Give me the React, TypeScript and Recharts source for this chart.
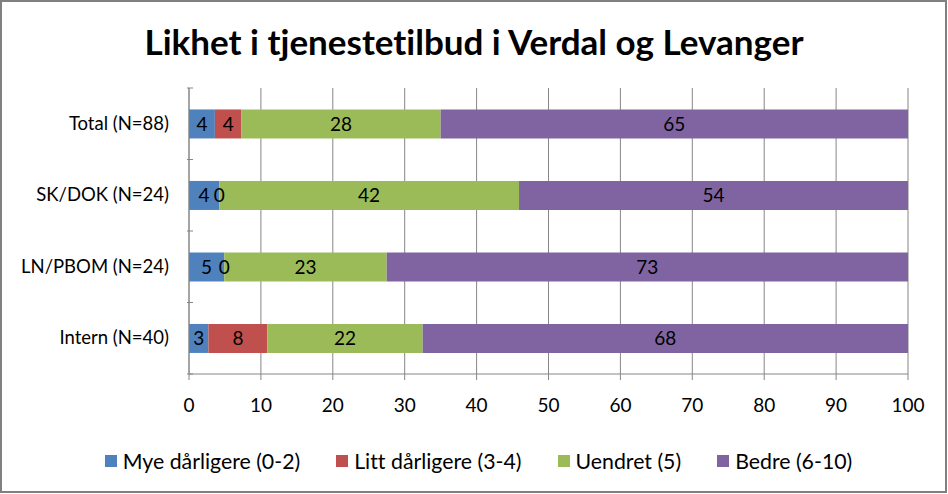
import React from 'react';
import { BarChart, Bar, XAxis, YAxis, CartesianGrid, LabelList, Legend } from 'recharts';

const categories = ['Total (N=88)', 'SK/DOK (N=24)', 'LN/PBOM (N=24)', 'Intern (N=40)'];
const myeDarligere = [3.6, 4.2, 4.9, 2.7];
const littDarligere = [3.7, 0, 0, 8.2];
const uendret = [27.7, 41.7, 22.6, 21.6];
const bedre = [65.0, 54.1, 72.5, 67.5];
const xTicks = [0, 10, 20, 30, 40, 50, 60, 70, 80, 90, 100];

const SERIES = [
    { key: 'mye', name: 'Mye dårligere (0-2)', color: '#4F81BD' },
    { key: 'litt', name: 'Litt dårligere (3-4)', color: '#C0504D' },
    { key: 'uendret', name: 'Uendret (5)', color: '#9BBB59' },
    { key: 'bedre', name: 'Bedre (6-10)', color: '#8064A2' },
];

const data = categories.map((name, i) => ({
    name,
    mye: myeDarligere[i],
    litt: littDarligere[i],
    uendret: uendret[i],
    bedre: bedre[i],
}));

const FONT = 'Lato, "Open Sans", sans-serif';
const AXIS = '#868686';
const NOLIG = { fontVariantLigatures: 'none' } as React.CSSProperties;

const W = 948;
const H = 494;
const PLOT_TOP = 88;
const PLOT_BOTTOM = 374;
const band = (PLOT_BOTTOM - PLOT_TOP) / categories.length;

const CategoryTick = (props: any) => {
    const { x, y, payload, index } = props;
    return (
        <g>
            <line x1={x + 6} x2={x + 12} y1={y - band / 2} y2={y - band / 2} stroke={AXIS} />
            {index === categories.length - 1 && (
                <line x1={x + 6} x2={x + 12} y1={y + band / 2} y2={y + band / 2} stroke={AXIS} />
            )}
            <text x={x - 12} y={y} dy={6} textAnchor="end" fontSize={18.5} fill="#000" fontFamily={FONT} style={NOLIG}>
                {payload.value}
            </text>
        </g>
    );
};

const LegendContent = () => (
    <div
        style={{
            display: 'flex',
            justifyContent: 'center',
            gap: 36,
            paddingLeft: 49,
            fontFamily: FONT,
            fontSize: 21.3,
            color: '#000',
            ...NOLIG,
        }}
    >
        {SERIES.map((s) => (
            <div key={s.key} style={{ display: 'flex', alignItems: 'center' }}>
                <span style={{ width: 12, height: 12, background: s.color, marginRight: 6, display: 'inline-block' }} />
                <span>{s.name}</span>
            </div>
        ))}
    </div>
);

const App = () => {
    return (
        <div style={{ position: 'absolute', left: 0, top: 0, width: W, height: H, background: '#fff' }}>
            <div
                style={{
                    position: 'absolute',
                    left: 0,
                    top: 0,
                    width: W - 1,
                    height: H - 1,
                    border: '2px solid #808080',
                    boxSizing: 'border-box',
                }}
            />
            <div
                style={{
                    position: 'absolute',
                    left: 0,
                    top: 20,
                    width: W,
                    textAlign: 'center',
                    fontFamily: FONT,
                    fontWeight: 'bold',
                    fontSize: 35,
                    color: '#000',
                    ...NOLIG,
                }}
            >
                Likhet i tjenestetilbud i Verdal og Levanger
            </div>
            <BarChart
                width={W}
                height={H}
                data={data}
                layout="vertical"
                barCategoryGap="30%"
                margin={{ top: PLOT_TOP, right: 40, left: 0, bottom: 12 }}
            >
                <CartesianGrid horizontal={false} stroke={AXIS} strokeWidth={1} />
                <XAxis
                    type="number"
                    domain={[0, 100]}
                    ticks={xTicks}
                    interval={0}
                    stroke={AXIS}
                    tickSize={6}
                    tickMargin={19}
                    height={74}
                    tick={{ fill: '#000', fontSize: 19, fontFamily: FONT }}
                />
                <YAxis
                    type="category"
                    dataKey="name"
                    width={189}
                    stroke={AXIS}
                    tickLine={false}
                    tick={<CategoryTick />}
                />
                <Legend verticalAlign="bottom" height={34} content={<LegendContent />} />
                {SERIES.map((s) => (
                    <Bar
                        key={s.key}
                        dataKey={s.key}
                        name={s.name}
                        stackId="a"
                        fill={s.color}
                        minPointSize={0.01}
                        isAnimationActive={false}
                    >
                        <LabelList
                            dataKey={s.key}
                            position="center"
                            fill="#000"
                            fontSize={19}
                            fontFamily={FONT}
                            formatter={(v: any) => String(Math.round(Number(v)))}
                        />
                    </Bar>
                ))}
            </BarChart>
        </div>
    );
};

export default App;
